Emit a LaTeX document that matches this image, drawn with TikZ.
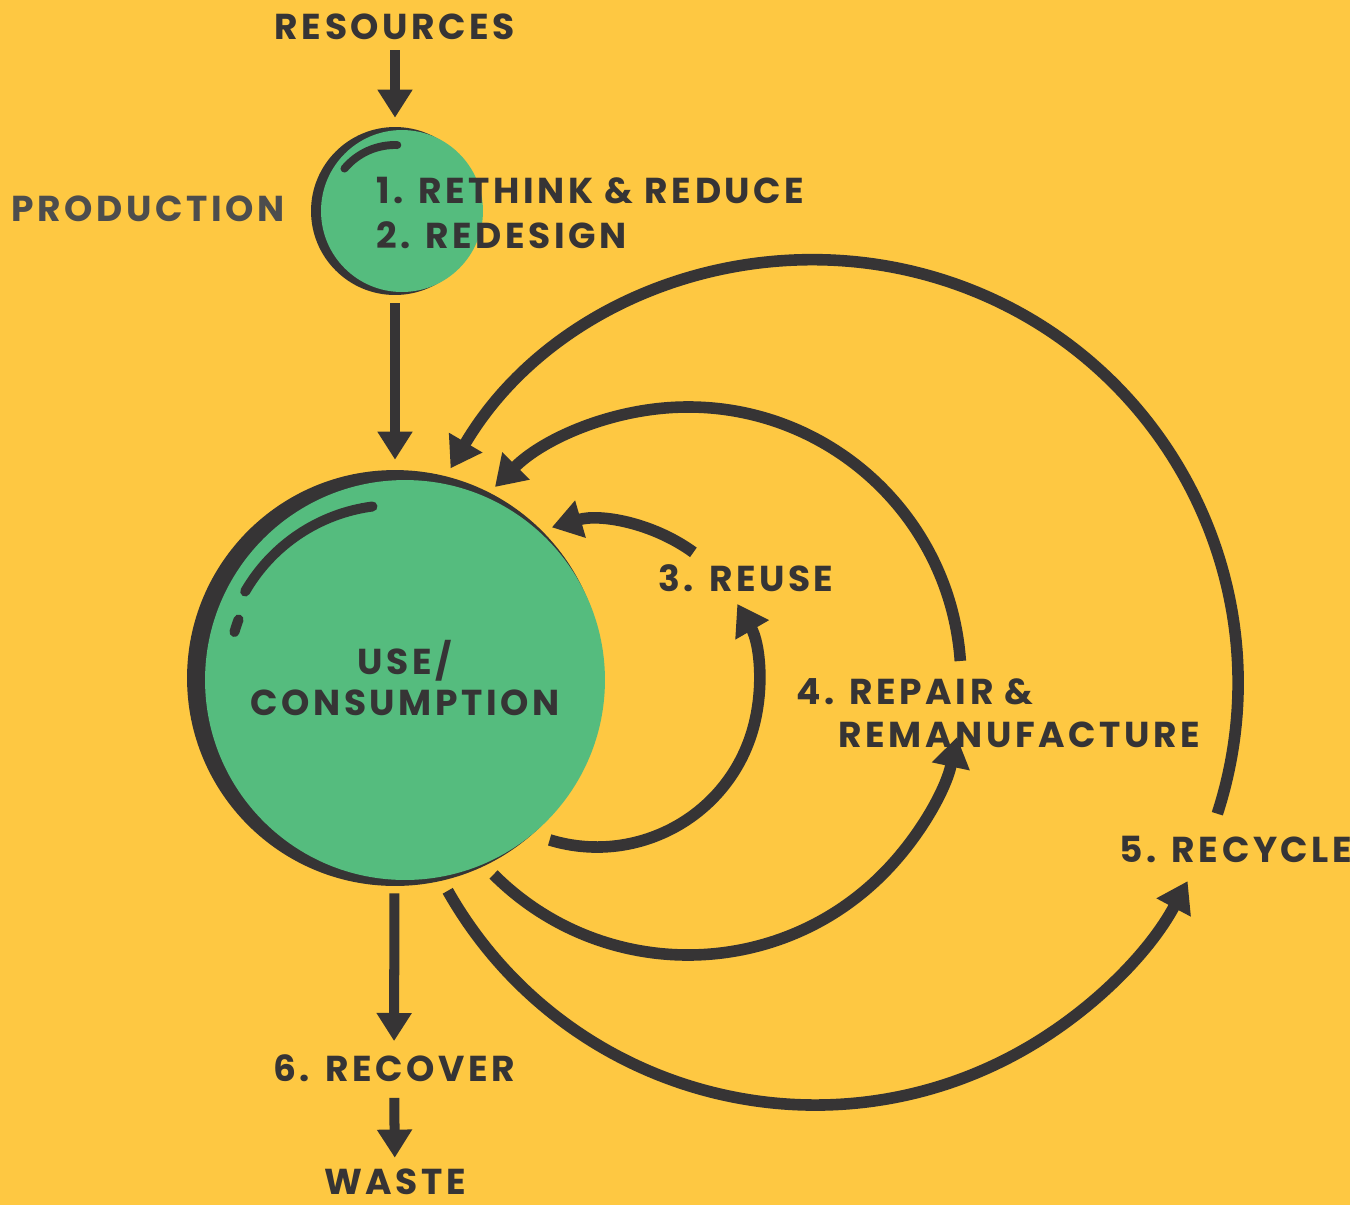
\documentclass[tikz,border=0pt]{standalone}
\usepackage{fontspec}
\setmainfont{Poppins}[LetterSpace=10]
\usetikzlibrary{arrows.meta,calc}
\definecolor{bg}{HTML}{FEC842}
\definecolor{grn}{HTML}{55BC7E}
\definecolor{ink}{HTML}{363435}
\definecolor{ink2}{HTML}{4D4D4D}
\begin{document}
\begin{tikzpicture}[x=0.02cm,y=0.02cm,
  lbl/.style={font=\fontsize{20.5}{23.5}\selectfont\bfseries, text=ink, inner sep=0pt},
  arr/.style={draw=ink, line width=5.7pt, -{Triangle[length=16pt,width=19pt]}},
  looparr/.style={draw=ink, line width=6.6pt, -{Triangle[length=17pt,width=21pt]}},
  shine/.style={draw=ink, line width=5.7pt, line cap=round},
  ]
\fill[bg] (0,0) rectangle (1350,-1205);
\useasboundingbox (0,0) rectangle (1350,-1205);

% production circle
\node[circle, fill=ink, minimum size=3.36cm, inner sep=0pt] (prodc) at (395,-211) {};
\node[circle, fill=grn, minimum size=3.24cm, inner sep=0pt] (prodg) at (402,-211) {};
\draw[shine, line width=4.5pt] ($(prodc)+(88:66)$) arc[start angle=88, end angle=140, radius=66];

% use circle
\node[circle, fill=ink, minimum size=8.32cm, inner sep=0pt] (usec) at (395,-678) {};
\node[circle, fill=grn, minimum size=8cm, inner sep=0pt] (useg) at (405,-680) {};
\draw[shine] ($(usec)+(97.5:173)$) arc[start angle=97.5, end angle=150, radius=173];
\draw[shine] ($(usec)+(159.5:167)$) arc[start angle=159.5, end angle=164, radius=167];

% labels
\node[lbl] (res) at (395,-27) {RESOURCES};
\node[lbl, text=ink2] (prod) at (148,-209) {PRODUCTION};
\node[lbl, anchor=west] (rr1) at (376,-191) {1. RETHINK \& REDUCE};
\node[lbl, anchor=west] (rr2) at (376,-235) {2. REDESIGN};
\node[lbl, align=center] (usetxt) at (405,-678) {USE/\\CONSUMPTION};
\node[lbl] (reuse) at (746,-578) {3. REUSE};
\node[lbl, anchor=west] (rep1) at (796,-692) {4. REPAIR \&};
\node[lbl, anchor=west] (rep2) at (838,-735) {REMANUFACTURE};
\node[lbl] (recyc) at (1236,-849) {5. RECYCLE};
\node[lbl] (recov) at (394,-1068) {6. RECOVER};
\node[lbl] (waste) at (395,-1182) {WASTE};

% straight arrows
\draw[arr, shorten <=2mm, shorten >=1.8mm] (res) -- (prodc);
\draw[arr, shorten <=1.6mm, shorten >=2mm] (prodc) -- (usec);
\draw[arr, shorten <=1.4mm, shorten >=2.6mm] (usec) -- (recov);
\draw[arr, shorten <=3.2mm, shorten >=2.2mm] (recov) -- (waste);

% loop centres
\coordinate (c3) at (597,-685);
\coordinate (c4) at (688,-680);
\coordinate (c5) at (815,-683);
\coordinate (r3a) at ($(c3)+(-107:162)$);
\coordinate (r3b) at ($(c3)+(54:164)$);
\coordinate (r4a) at ($(c4)+(-135:275)$);
\coordinate (r4b) at ($(c4)+(4:273)$);
\coordinate (r5a) at ($(c5)+(-150.5:422)$);
\coordinate (r5b) at ($(c5)+(-18:423)$);

% reuse loop
\draw[looparr] (r3a) arc[start angle=-107, end angle=30, radius=162];
\draw[looparr] (r3b) arc[start angle=54, end angle=106, radius=164];
% repair loop
\draw[looparr] (r4a) arc[start angle=-135, end angle=-12, radius=275];
\draw[looparr] (r4b) arc[start angle=4, end angle=135, radius=273];
% recycle loop
\draw[looparr] (r5a) arc[start angle=-150.5, end angle=-28, radius=422];
\draw[looparr] (r5b) arc[start angle=-18, end angle=149.5, radius=423];
\end{tikzpicture}
\end{document}
